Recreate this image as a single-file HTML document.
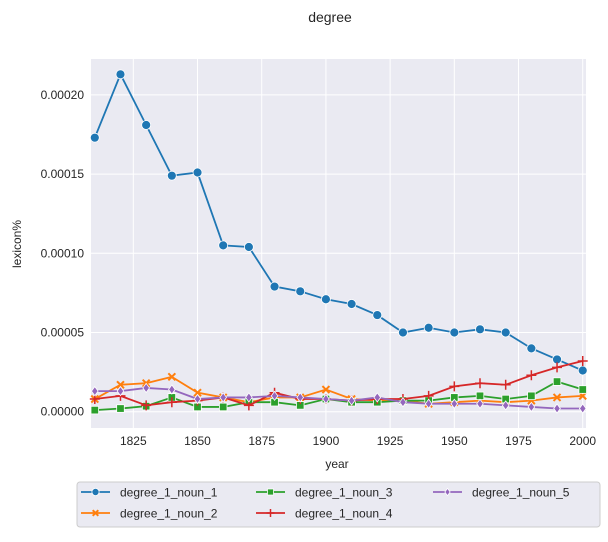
<!DOCTYPE html>
<html><head><meta charset="utf-8"><style>
body{margin:0;background:#fff;font-family:"Liberation Sans",Arial,sans-serif;}
svg text{font-family:"Liberation Sans",Arial,sans-serif;fill:#262626;}
</style></head><body>
<svg id="chart" width="608" height="537" xmlns="http://www.w3.org/2000/svg">
<text x="330" y="22" font-size="14" text-anchor="middle">degree</text>
<rect x="91" y="59" width="495" height="369" fill="#eaeaf2"/>
<g id="grid"></g><g id="series"></g><g id="ticks"></g>
<text x="337" y="468" font-size="12" text-anchor="middle">year</text>
<text transform="translate(21,244) rotate(-90)" font-size="12" text-anchor="middle">lexicon%</text>
<g id="legend">
<rect x="77" y="482" width="523" height="45" rx="3" fill="#eaeaf2" stroke="#cccccc"/>
</g>
</svg>
<script>
const years=[1810,1820,1830,1840,1850,1860,1870,1880,1890,1900,1910,1920,1930,1940,1950,1960,1970,1980,1990,2000];
const noun1=[173,213,181,149,151,105,104,79,76,71,68,61,50,53,50,52,50,40,33,26];
const noun2=[8,17,18,22,12,9,6,9,9,14,8,7,7,5,6,7,6,7,9,10];
const noun3=[1,2,3.5,9,3,3,6,6,4,8,6,6,7,7,9,10,8,10,19,14];
const noun4=[8,10,4,6,7,9,4,12,8,8,7,8,8,10,16,18,17,23,28,32];
const noun5=[13,13,15,14,8,9,9,10,9,8,7,9,6,5,5,5,4,3,2,2];
const xTicks=[1825,1850,1875,1900,1925,1950,1975,2000];
const yTicks=[0,50,100,150,200];
const yLabels=["0.00000","0.00005","0.00010","0.00015","0.00020"];
const seriesNames=["degree_1_noun_1","degree_1_noun_2","degree_1_noun_3","degree_1_noun_4","degree_1_noun_5"];
const colors=["#1f77b4","#ff7f0e","#2ca02c","#d62728","#9467bd"];
const markers=["circle","x","square","plus","diamond"];
const allSeries=[noun1,noun2,noun3,noun4,noun5];
const NS="http://www.w3.org/2000/svg";
function xs(v){return 94.8+(v-1810)*2.568;}
function ys(v){return 411.7-v*1.584;}
function mk(tag,attrs,parent){const e=document.createElementNS(NS,tag);for(const k in attrs)e.setAttribute(k,attrs[k]);parent.appendChild(e);return e;}
const grid=document.getElementById('grid'),ticks=document.getElementById('ticks'),ser=document.getElementById('series'),leg=document.getElementById('legend');
xTicks.forEach(t=>{const l=mk('line',{x1:xs(t),x2:xs(t),y1:59,y2:428,stroke:'#fff','stroke-width':1},grid);


const tx=mk('text',{x:xs(t),y:445,'font-size':12,'text-anchor':'middle'},ticks);tx.textContent=t;

});
yTicks.forEach((t,i)=>{const l=mk('line',{x1:91,x2:586,y1:ys(t),y2:ys(t),stroke:'#fff','stroke-width':1},grid);


const tx=mk('text',{x:84,y:ys(t)+4,'font-size':12,'text-anchor':'end'},ticks);tx.textContent=yLabels[i];

});
function marker(type,x,y,c,p,s){s=s||1;let e;
if(type==='circle')e=mk('circle',{cx:x,cy:y,r:4.5*s,fill:c,stroke:'#fff','stroke-width':0.8},p);
else if(type==='square')e=mk('rect',{x:x-3.8*s,y:y-3.8*s,width:7.6*s,height:7.6*s,fill:c,stroke:'#fff','stroke-width':0.8},p);
else if(type==='diamond')e=mk('path',{d:`M${x},${y-4.5*s}L${x+3.3*s},${y}L${x},${y+4.5*s}L${x-3.3*s},${y}Z`,fill:c,stroke:'#fff','stroke-width':0.8},p);
else if(type==='x')e=mk('path',{d:`M${x-3.5*s},${y-3.5*s}L${x+3.5*s},${y+3.5*s}M${x+3.5*s},${y-3.5*s}L${x-3.5*s},${y+3.5*s}`,stroke:c,'stroke-width':2},p);
else e=mk('path',{d:`M${x-5*s},${y}L${x+5*s},${y}M${x},${y-5*s}L${x},${y+5*s}`,stroke:c,'stroke-width':1.5},p);
return e;}
allSeries.forEach((d,si)=>{const g=mk('g',{},ser);


const pl=mk('polyline',{points:d.map((v,i)=>xs(years[i])+','+ys(v)).join(' '),fill:'none',stroke:colors[si],'stroke-width':1.8},g);


d.forEach((v,i)=>{const m=marker(markers[si],xs(years[i]),ys(v),colors[si],g);

});});
const lpos=[[81,492],[81,513],[256,492],[256,513],[433,492]];
seriesNames.forEach((n,i)=>{const g=mk('g',{},leg);


const [x,y]=lpos[i];mk('line',{x1:x,x2:x+29,y1:y,y2:y,stroke:colors[i],'stroke-width':1.8},g);
marker(markers[i],x+14.5,y,colors[i],g,0.8);
const t=mk('text',{x:x+39,y:y+4.5,'font-size':12},g);t.textContent=n;});
</script>
</body></html>
